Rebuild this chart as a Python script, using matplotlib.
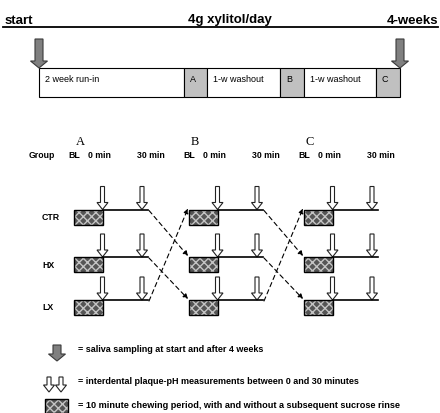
import matplotlib.pyplot as plt
from matplotlib.patches import Rectangle, Polygon

# study design diagram (crossover study with 3 groups, 3 test periods)
header = ['start', '4g xylitol/day', '4-weeks']
segments = ['2 week run-in', 'A', '1-w washout', 'B', '1-w washout', 'C']
segment_edges = [39, 184, 207, 280, 304, 376, 400]
periods = ['A', 'B', 'C']
groups = ['CTR', 'HX', 'LX']
# row each group moves to in the next period
next_row = [1, 2, 0]
legend_texts = ['= saliva sampling at start and after 4 weeks',
                '= interdental plaque-pH measurements between 0 and 30 minutes',
                '= 10 minute chewing period, with and without a subsequent sucrose rinse']

SANS = 'Liberation Sans'
SERIF = 'Liberation Serif'

fig = plt.figure(figsize=(4.4, 4.13), dpi=100)
ax = fig.add_axes([0, 0, 1, 1])
ax.set_xlim(0, 440)
ax.set_ylim(413, 0)
ax.axis('off')


def big_arrow(x, top, tip):
	pts = [(x - 4, top), (x + 4, top), (x + 4, tip - 7), (x + 8.5, tip - 7),
	       (x, tip), (x - 8.5, tip - 7), (x - 4, tip - 7)]
	ax.add_patch(Polygon(pts, closed=True, facecolor='#808080', edgecolor='#3a3a3a', lw=0.8))


def small_arrow(x, top, tip):
	pts = [(x - 2, top), (x + 2, top), (x + 2, tip - 7), (x + 5.5, tip - 7),
	       (x, tip), (x - 5.5, tip - 7), (x - 2, tip - 7)]
	ax.add_patch(Polygon(pts, closed=True, facecolor='white', edgecolor='#222222', lw=0.8))


def chew_box(x0, y0, w, h):
	ax.add_patch(Rectangle((x0, y0), w, h, facecolor='#555555', edgecolor='#c4c4c4',
	                       hatch='xxxx', lw=0))
	ax.add_patch(Rectangle((x0, y0), w, h, fill=False, edgecolor='black', lw=1.0))


# header
ax.text(5, 23.5, header[0], fontsize=9.5, fontweight='bold', family=SANS, va='baseline')
ax.text(230, 23.5, header[1], fontsize=9.5, fontweight='bold', family=SANS, va='baseline', ha='center')
ax.text(438, 23.5, header[2], fontsize=9.5, fontweight='bold', family=SANS, va='baseline', ha='right')
ax.plot([3, 438], [26.5, 26.5], color='black', lw=1.3)

# timeline
for i, lab in enumerate(segments):
	x0, x1 = segment_edges[i], segment_edges[i + 1]
	fc = '#c0c0c0' if len(lab) == 1 else 'white'
	ax.add_patch(Rectangle((x0, 68), x1 - x0, 29, facecolor=fc, edgecolor='black', lw=0.8))
	ax.text(x0 + 6, 79.5, lab, fontsize=6.5, family=SANS, va='center')
big_arrow(segment_edges[0], 39, 68)
big_arrow(segment_edges[-1], 39, 68)

# crossover part
period_x = [74, 189, 304]
row_y = [209.5, 257, 300]
ax.text(42, 156, 'Group', fontsize=6.3, fontweight='bold', family=SANS, ha='center', va='center')
for p, name in enumerate(periods):
	bx = period_x[p]
	ax.text(bx + 2, 142, name, fontsize=9, family=SERIF, ha='left', va='center')
	ax.text(bx - 6, 156, 'BL', fontsize=6.3, fontweight='bold', family=SANS, va='center')
	ax.text(bx + 14, 156, '0 min', fontsize=6.3, fontweight='bold', family=SANS, va='center')
	ax.text(bx + 63, 156, '30 min', fontsize=6.3, fontweight='bold', family=SANS, va='center')
	for r, y in enumerate(row_y):
		chew_box(bx, y, 28.5, 15)
		end = bx + 74
		ax.plot([bx + 28.5, end], [y, y], color='black', lw=1.2)
		small_arrow(bx + 28.5, y - 23, y)
		small_arrow(bx + 68, y - 23, y)
		if p < len(periods) - 1:
			ty = row_y[next_row[r]]
			ax.annotate('', xy=(period_x[p + 1] - 1, ty - 1), xytext=(end + 1, y + 1),
			            arrowprops=dict(arrowstyle='-|>', linestyle=(0, (4, 3)), lw=0.8,
			                            color='black', mutation_scale=7, shrinkA=0, shrinkB=0))

for r, name in enumerate(groups):
	ax.text(42, row_y[r] + 8, name, fontsize=6.3, fontweight='bold', family=SANS, ha='left', va='center')

# legend
big_arrow(57, 345, 361)
ax.text(78, 350, legend_texts[0], fontsize=6.5, fontweight='bold', family=SANS, va='center')
small_arrow(49, 377, 392)
small_arrow(61, 377, 392)
ax.text(78, 382, legend_texts[1], fontsize=6.5, fontweight='bold', family=SANS, va='center')
chew_box(45, 399, 23, 14)
ax.text(78, 405, legend_texts[2], fontsize=6.6, fontweight='bold', family=SANS, va='center')

fig.savefig('out.png', dpi=100)
